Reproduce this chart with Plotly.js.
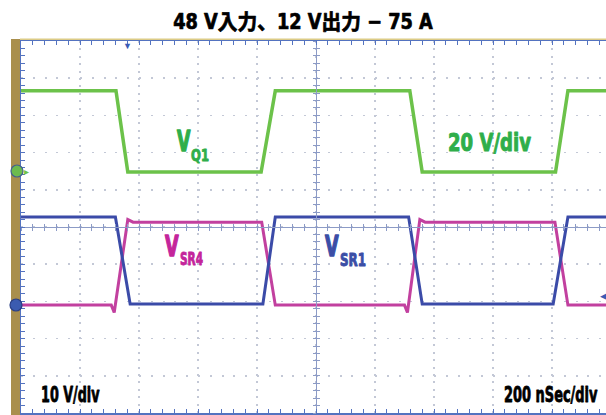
<!DOCTYPE html>
<html>
<head>
<meta charset="utf-8">
<script src="https://cdn.plot.ly/plotly-3.0.1.min.js"></script>
<style>
html,body{margin:0;padding:0;background:#fff;}
#chart{width:606px;height:415px;}
</style>
</head>
<body>
<div id="chart"></div>
<script>
// ---- Data (time in divisions of 200 ns from left edge, level in screen divisions from centre) ----
const vq1Time  = [0, 1.61, 1.81, 4.07, 4.31, 6.59, 6.80, 9.06, 9.27, 9.915];
const vq1Level = [3.66, 3.66, 1.48, 1.48, 3.66, 3.66, 1.48, 1.48, 3.66, 3.66];

const vsr1Time  = [0, 1.60, 1.85, 4.10, 4.31, 6.57, 6.80, 9.02, 9.27, 9.915];
const vsr1Level = [0.27, 0.27, -2.07, -2.07, 0.27, 0.27, -2.07, -2.07, 0.27, 0.27];

const vsr4Time  = [0, 1.53, 1.58, 1.81, 1.90, 4.08, 4.31, 6.50, 6.55, 6.76, 6.85, 9.05, 9.27, 9.915];
const vsr4Level = [-2.10, -2.10, -2.30, 0.20, 0.13, 0.13, -2.10, -2.10, -2.30, 0.20, 0.13, 0.13, -2.10, -2.10];

const titleText = '48 V入力、12 V出力 − 75 A';
const labels = {
  q1: ['V', 'Q1'], sr4: ['V', 'SR4'], sr1: ['V', 'SR1'],
  greenScale: '20 V/div', voltScale: '10 V/div', timeScale: '200 nSec/div'
};

// ---- Layout helpers ----
const L = 21, T = 41, B = 413, R = 606;
const PW = R - L, PH = B - T;
const px = p => (p - L) / PW;
const py = p => (B - p) / PH;
const XR = [0, PW / 59];
const YR = [-5, 5];
const FONT = "'DejaVu Sans Condensed', 'Noto Sans CJK JP', sans-serif";

const green = '#6cc24a', blue = '#3b4ba8', magenta = '#c2409f';
const gLab = '#2fae4a', bLab = '#3b4ea6', mLab = '#c4259b';
const border = '#5473c0', centre = '#8c9bc6', gridc = '#c3c8d6';

const traces = [
  {x: vq1Time, y: vq1Level, mode: 'lines', line: {color: green, width: 3.5}, hoverinfo: 'skip'},
  {x: vsr4Time, y: vsr4Level, mode: 'lines', line: {color: magenta, width: 3}, hoverinfo: 'skip'},
  {x: vsr1Time, y: vsr1Level, mode: 'lines', line: {color: blue, width: 3}, hoverinfo: 'skip'},
  {x: [], y: [], xaxis: 'x2', yaxis: 'y2', hoverinfo: 'skip'},
  {x: [], y: [], xaxis: 'x3', yaxis: 'y3', hoverinfo: 'skip'}
];

// text, left px, centre-y px, font size, colour, target width px, extra stroke
const textSpecs = [
  [labels.q1[0], 176, 141, 29, gLab, 14, 1.4],
  [labels.q1[1], 190, 155.5, 15, gLab, 18, 0.8],
  [labels.sr4[0], 164, 247, 28, mLab, 14, 1.4],
  [labels.sr4[1], 179, 258.5, 18, mLab, 23, 0.9],
  [labels.sr1[0], 324, 247, 28, bLab, 14, 1.4],
  [labels.sr1[1], 339, 259.5, 18, bLab, 26, 0.9],
  [labels.greenScale, 447, 143, 24, gLab, 83, 0.9],
  [labels.voltScale, 40, 394.5, 21, '#000', 59, 0.8],
  [labels.timeScale, 503, 394.5, 21, '#000', 94, 0.8]
];

const annotations = textSpecs.map(s => ({
  text: '<b>' + s[0] + '</b>', x: px(s[1]), y: py(s[2]), xref: 'paper', yref: 'paper',
  xanchor: 'left', yanchor: 'middle', showarrow: false, borderpad: 0,
  font: {family: FONT, size: s[3], color: s[4]}
})).concat([
  {text: '▼', x: px(127), y: py(45), xref: 'paper', yref: 'paper', showarrow: false,
   font: {size: 9, color: '#3c5bb5'}, xanchor: 'center', yanchor: 'middle'},
  {text: '◀', x: px(603), y: py(295), xref: 'paper', yref: 'paper', showarrow: false,
   font: {size: 9, color: '#3c5bb5'}, xanchor: 'center', yanchor: 'middle'},
  {text: '▸', x: px(26), y: py(171), xref: 'paper', yref: 'paper', showarrow: false,
   font: {size: 10, color: green}, xanchor: 'center', yanchor: 'middle'}
]);

const shapes = [
  {type: 'rect', xref: 'paper', yref: 'paper', x0: px(11), x1: px(20), y0: py(416), y1: py(39),
   fillcolor: '#a98f4d', line: {width: 0}, layer: 'above'},
  {type: 'line', xref: 'paper', yref: 'paper', x0: px(20), x1: 1, y0: py(39.2), y1: py(39.2),
   line: {color: '#dccb86', width: 1.5}},
  {type: 'circle', xref: 'paper', yref: 'paper', xsizemode: 'pixel', ysizemode: 'pixel',
   xanchor: px(17), yanchor: py(171), x0: -6, x1: 6, y0: -6, y1: 6,
   fillcolor: '#6cbb4e', line: {color: '#44608f', width: 1.2}, layer: 'above'},
  {type: 'circle', xref: 'paper', yref: 'paper', xsizemode: 'pixel', ysizemode: 'pixel',
   xanchor: px(16), yanchor: py(305), x0: -6, x1: 6, y0: -6, y1: 6,
   fillcolor: '#3b5bb0', line: {color: '#2a3f85', width: 1.2}, layer: 'above'}
];

const baseAx = {showticklabels: false, zeroline: false, fixedrange: true};
function centreAx(extra, side) {
  return Object.assign({}, baseAx, {showgrid: false, dtick: 1, tick0: 0,
    ticks: side, ticklen: 3, tickcolor: centre,
    minor: {dtick: 0.2, tick0: 0, ticks: side, ticklen: 3, tickcolor: centre, showgrid: false}}, extra);
}

const layout = {
  width: 606, height: 415,
  margin: {l: L, r: 0, t: T, b: 415 - B, pad: 0},
  paper_bgcolor: '#fff', plot_bgcolor: '#fff',
  showlegend: false,
  title: {text: '<b>' + titleText + '</b>', x: 0.5, xref: 'container', xanchor: 'center',
          y: 1 - 22 / 415, yref: 'container', yanchor: 'middle',
          font: {family: FONT, size: 21, color: '#000'}},
  xaxis: Object.assign({}, baseAx, {range: XR, dtick: 1, tick0: 0,
    showgrid: true, gridcolor: gridc, gridwidth: 1.5, griddash: '2px,5.4px',
    showline: true, linecolor: border, linewidth: 2, mirror: 'allticks',
    ticks: 'inside', ticklen: 4, tickcolor: border, tickwidth: 1,
    minor: {dtick: 0.2, tick0: 0, ticks: 'inside', ticklen: 4, tickcolor: border, showgrid: false}}),
  yaxis: Object.assign({}, baseAx, {range: YR, dtick: 1, tick0: 0,
    showgrid: true, gridcolor: gridc, gridwidth: 1.5, griddash: '2px,9.8px',
    showline: true, linecolor: border, linewidth: 2, mirror: false,
    ticks: 'inside', ticklen: 4, tickcolor: border, tickwidth: 1,
    minor: {dtick: 0.2, tick0: 0, ticks: 'inside', ticklen: 4, tickcolor: border, showgrid: false}}),
  xaxis2: centreAx({range: XR, overlaying: 'x', anchor: 'free', position: 0.5,
    showline: true, linecolor: centre, linewidth: 1}, 'inside'),
  yaxis2: centreAx({range: YR, overlaying: 'y', anchor: 'free', position: 5 / XR[1],
    showline: true, linecolor: centre, linewidth: 1}, 'inside'),
  xaxis3: centreAx({range: XR, overlaying: 'x', anchor: 'free', position: 0.5, showline: false}, 'outside'),
  yaxis3: centreAx({range: YR, overlaying: 'y', anchor: 'free', position: 5 / XR[1], showline: false}, 'outside'),
  annotations: annotations,
  shapes: shapes
};

function condense(el, target, origin, stroke) {
  const w = el.getBBox().width;
  if (!w) return;
  el.style.transformBox = 'fill-box';
  el.style.transformOrigin = origin;
  el.style.transform = 'scaleX(' + (target / w).toFixed(4) + ')';
  if (stroke) {
    el.style.stroke = getComputedStyle(el).fill;
    el.style.strokeWidth = stroke + 'px';
    el.style.strokeLinejoin = 'round';
  }
}

Plotly.newPlot('chart', traces, layout, {displayModeBar: false, staticPlot: true}).then(gd => {
  const texts = gd.querySelectorAll('.annotation-text');
  textSpecs.forEach((s, i) => { if (texts[i]) condense(texts[i], s[5], 'left center', s[6]); });
  const t = gd.querySelector('.gtitle');
  if (t) condense(t, 260, 'center center', 0.7);
});
</script>
</body>
</html>
